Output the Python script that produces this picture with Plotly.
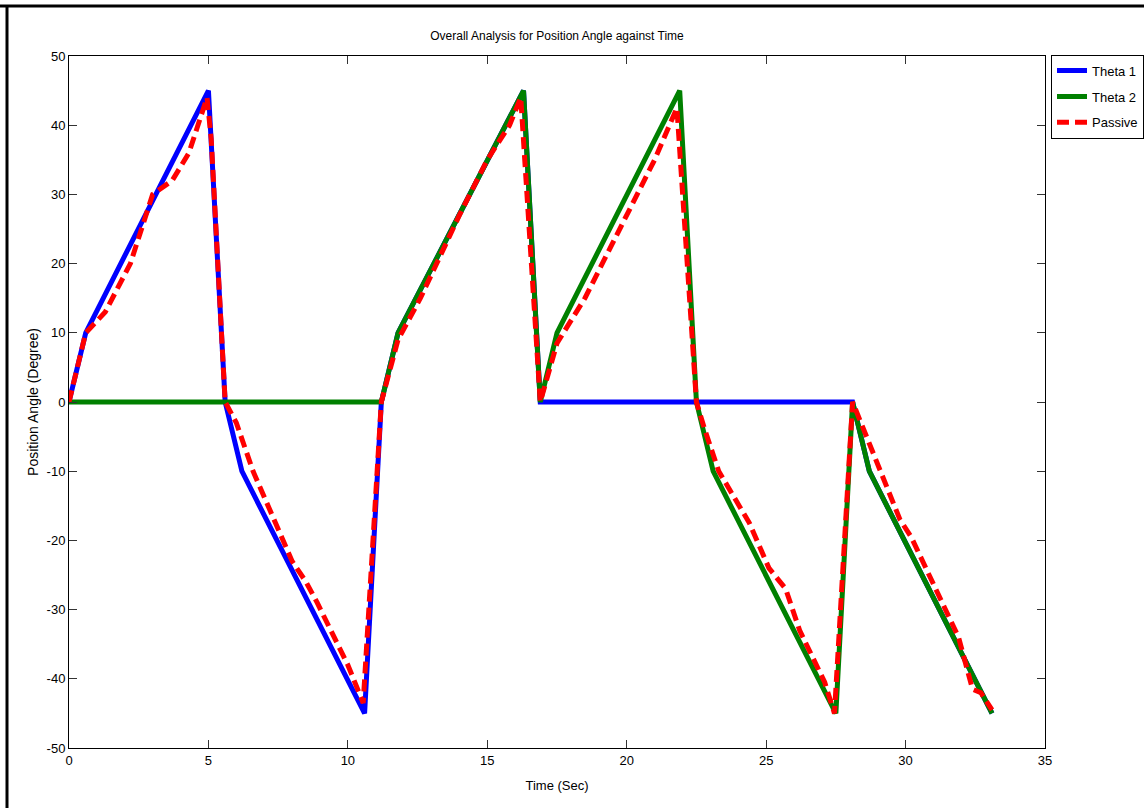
import plotly.graph_objects as go

# ---- data ----
t_theta1 = [0, 0.6, 5.0, 5.6, 6.2, 10.6, 11.2, 11.8, 16.3, 16.9, 28.1, 28.7, 33.1]
theta1 = [0, 10, 45, 0, -10, -45, 0, 10, 45, 0, 0, -10, -45]

t_theta2 = [0, 11.2, 11.8, 16.3, 16.9, 17.5, 21.9, 22.5, 23.1, 27.5, 28.1, 28.7, 33.1]
theta2 = [0, 0, 10, 45, 0, 10, 45, 0, -10, -45, 0, -10, -45]

t_passive = [0, 0.6, 1.3, 2.2, 3.0, 3.7, 4.3, 4.95, 5.1, 5.6,
             6.0, 6.6, 8.0, 8.5, 8.9, 10.0, 10.55, 11.2,
             11.8, 12.6, 14.0, 15.0, 15.8, 16.2, 16.9,
             17.5, 18.5, 20.0, 21.0, 21.8, 22.5,
             22.8, 23.3, 24.4, 25.1, 25.7, 26.2, 27.1, 27.45, 28.1,
             28.6, 29.8, 30.2, 31.1, 31.9, 32.4, 32.7, 33.1]
passive = [0, 10, 13, 20, 30, 32, 36, 44, 38, 0,
           -3, -10, -23, -26, -29, -38, -43.5, 0,
           9, 15, 27, 35, 40, 44, 0,
           8.5, 15, 27, 35, 42.5, 0,
           -4, -10, -17.5, -24, -27, -33, -40.5, -45, 0,
           -5, -17, -19.5, -27, -34, -41.5, -42, -44.5]

title_text = "Overall Analysis for Position Angle against Time"
x_title = "Time (Sec)"
y_title = "Position Angle (Degree)"
x_ticks = [0, 5, 10, 15, 20, 25, 30, 35]
y_ticks = [-50, -40, -30, -20, -10, 0, 10, 20, 30, 40, 50]
y_ticklabels = [str(v) for v in y_ticks]
x_ticklabels = [str(v) for v in x_ticks]

font_family = "Liberation Sans, Arial, sans-serif"

fig = go.Figure()
fig.add_trace(go.Scatter(x=t_theta1, y=theta1, mode="lines", name="Theta 1",
                         line=dict(color="#0000FF", width=5), legendgroup="a"))
fig.add_trace(go.Scatter(x=t_theta2, y=theta2, mode="lines", name="Theta 2",
                         line=dict(color="#008000", width=5), legendgroup="b"))
fig.add_trace(go.Scatter(x=t_passive, y=passive, mode="lines", name="Passive",
                         line=dict(color="#FF0000", width=5, dash="12px,6px"), legendgroup="c"))

# plot-area geometry in pixels (for decorative border lines)
L, R, T, B = 69, 1045, 56, 748
W, H = R - L, B - T
def px(x):
    return (x - L) / W
def py(y):
    return (B - y) / H

fig.update_layout(
    width=1144, height=808,
    margin=dict(l=L, r=1144 - R, t=T, b=808 - B, autoexpand=False),
    paper_bgcolor="white", plot_bgcolor="white",
    title=dict(text=title_text, x=0.5, xref="paper", xanchor="center",
               y=1 - 36 / 808, yanchor="middle",
               font=dict(family=font_family, size=12, color="black")),
    showlegend=True,
    legend=dict(x=px(1051), y=1.002, xanchor="left", yanchor="top",
                bordercolor="black", borderwidth=1, bgcolor="white",
                font=dict(family=font_family, size=13, color="black"),
                traceorder="grouped", tracegroupgap=6, itemwidth=30),
    xaxis=dict(range=[0, 35], tickvals=x_ticks, ticktext=x_ticklabels,
               ticks="inside", ticklen=8,
               tickcolor="#333", showline=True, linecolor="black", linewidth=1,
               mirror="ticks", showgrid=False, zeroline=False,
               tickfont=dict(family=font_family, size=13, color="black"),
               title=dict(text=x_title, font=dict(family=font_family, size=13, color="black"),
                          standoff=14)),
    yaxis=dict(range=[-50, 50], tickvals=y_ticks, ticktext=y_ticklabels,
               ticks="inside", ticklen=8,
               tickcolor="#333", showline=True, linecolor="black", linewidth=1,
               mirror="ticks", showgrid=False, zeroline=False,
               tickfont=dict(family=font_family, size=13, color="black"),
               title=dict(text=y_title, font=dict(family=font_family, size=14, color="black"),
                          standoff=4)),
    shapes=[
        dict(type="line", xref="paper", yref="paper", x0=px(0), x1=px(1144),
             y0=py(6), y1=py(6), line=dict(color="black", width=3), layer="above"),
        dict(type="line", xref="paper", yref="paper", x0=px(7), x1=px(7),
             y0=py(5), y1=py(808), line=dict(color="black", width=3), layer="above"),
    ],
)

fig.write_html("out.html",
               config={"displayModeBar": False},
               post_script="document.body.style.margin='0';document.body.style.overflow='hidden';")
